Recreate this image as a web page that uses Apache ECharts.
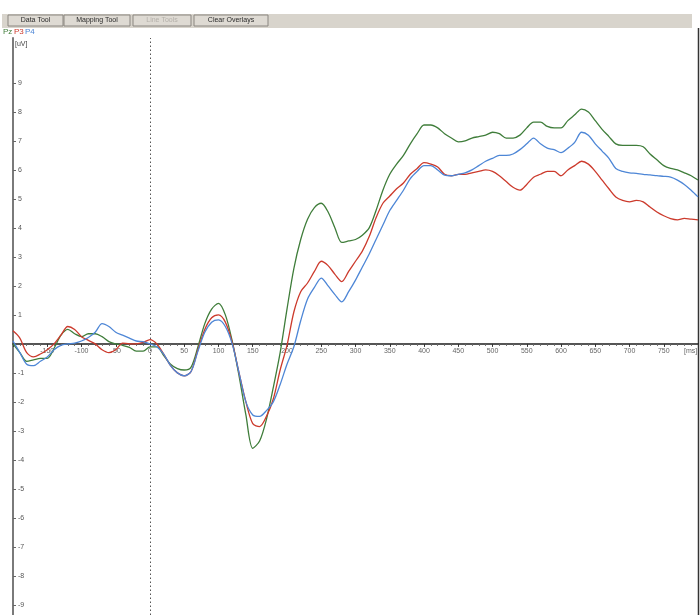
<!DOCTYPE html>
<html>
<head>
<meta charset="utf-8">
<title>ERP Pz P3 P4</title>
<script src="https://cdn.jsdelivr.net/npm/echarts@6/dist/echarts.min.js"></script>
<style>
  html, body { margin: 0; padding: 0; background: #ffffff; overflow: hidden; }
  #chart { width: 700px; height: 615px; }
</style>
</head>
<body>
<div id="chart"></div>
<script>
// Sample times in ms (10 ms steps), shared by all three channels
const timesMs = [
  -200, -190, -180, -170, -160, -150, -140, -130, -120, -110,
  -100, -90, -80, -70, -60, -50, -40, -30, -20, -10,
  0, 10, 20, 30, 40, 50, 60, 70, 80, 90,
  100, 110, 120, 130, 140, 150, 160, 170, 180, 190,
  200, 210, 220, 230, 240, 250, 260, 270, 280, 290,
  300, 310, 320, 330, 340, 350, 360, 370, 380, 390,
  400, 410, 420, 430, 440, 450, 460, 470, 480, 490,
  500, 510, 520, 530, 540, 550, 560, 570, 580, 590,
  600, 610, 620, 630, 640, 650, 660, 670, 680, 690,
  700, 710, 720, 730, 740, 750, 760, 770, 780, 790,
  800
];

// Channel amplitudes in microvolts
const pz = [
  0.0, -0.3, -0.6, -0.55, -0.5, -0.5, -0.15, 0.3, 0.5, 0.35,
  0.25, 0.35, 0.35, 0.25, 0.08, 0.0, -0.05, -0.12, -0.25, -0.25,
  -0.1, -0.1, -0.4, -0.7, -0.85, -0.9, -0.8, -0.1, 0.7, 1.2,
  1.4, 1.0, 0.1, -1.1, -2.45, -3.6, -3.35, -2.6, -1.5, -0.3,
  1.2, 2.6, 3.6, 4.3, 4.7, 4.85, 4.55, 4.0, 3.5, 3.55,
  3.6, 3.75, 4.0, 4.6, 5.3, 5.85, 6.2, 6.5, 6.9, 7.25,
  7.55, 7.55, 7.45, 7.25, 7.1, 6.97, 7.0, 7.1, 7.15, 7.2,
  7.3, 7.25, 7.1, 7.1, 7.2, 7.45, 7.65, 7.65, 7.5, 7.45,
  7.45, 7.7, 7.9, 8.1, 8.0, 7.7, 7.4, 7.15, 6.9, 6.85,
  6.85, 6.85, 6.8, 6.55, 6.35, 6.15, 6.05, 6.0, 5.9, 5.8,
  5.65
];

const p3 = [
  0.45, 0.2, -0.3, -0.45, -0.35, -0.2, 0.0, 0.3, 0.6, 0.5,
  0.25, 0.12, 0.0, -0.2, -0.3, -0.2, 0.03, 0.0, 0.0, 0.05,
  0.15, 0.0, -0.35, -0.75, -1.0, -1.1, -0.95, -0.2, 0.5, 0.9,
  1.0, 0.75, 0.05, -1.0, -2.0, -2.75, -2.85, -2.5, -1.9, -0.9,
  -0.05, 1.1, 1.8, 2.1, 2.5, 2.85, 2.7, 2.4, 2.15, 2.5,
  2.85, 3.2, 3.7, 4.35, 4.85, 5.1, 5.35, 5.55, 5.85, 6.05,
  6.25, 6.2, 6.1, 5.85, 5.8, 5.85, 5.85, 5.9, 5.95, 6.0,
  5.95, 5.8, 5.6, 5.4, 5.3, 5.5, 5.75, 5.85, 5.95, 5.95,
  5.8, 6.0, 6.15, 6.3, 6.2, 5.95, 5.65, 5.35, 5.07, 4.95,
  4.9, 4.95, 4.9, 4.72, 4.55, 4.42, 4.32, 4.28, 4.33, 4.3,
  4.28
];

const p4 = [
  0.1, -0.3, -0.7, -0.75, -0.6, -0.45, -0.2, -0.05, 0.0, 0.03,
  0.1, 0.22, 0.4, 0.7, 0.6, 0.4, 0.3, 0.2, 0.1, 0.08,
  0.0, -0.1, -0.35, -0.75, -1.0, -1.1, -0.95, -0.25, 0.4, 0.75,
  0.83, 0.6, 0.0, -1.0, -2.0, -2.45, -2.5, -2.3, -2.0, -1.4,
  -0.7, -0.1, 0.8, 1.55, 1.95, 2.27, 2.0, 1.7, 1.45, 1.8,
  2.2, 2.65, 3.1, 3.6, 4.1, 4.6, 4.95, 5.3, 5.7, 5.95,
  6.15, 6.15, 6.0, 5.82, 5.8, 5.85, 5.9, 6.0, 6.15, 6.3,
  6.4, 6.5, 6.5, 6.55, 6.7, 6.9, 7.1, 6.9, 6.75, 6.7,
  6.6, 6.75, 6.95, 7.3, 7.2, 6.9, 6.65, 6.4, 6.05, 5.95,
  5.9, 5.88, 5.85, 5.83, 5.8, 5.78, 5.75, 5.65, 5.5, 5.3,
  5.07
];

const channelNames = ['Pz', 'P3', 'P4'];
const channelColors = ['#3f7d3a', '#cc3a2c', '#4d86d6'];

// Axis tick labels
const xLabelValues = [-150, -100, -50, 0, 50, 100, 150, 200, 250, 300, 350,
  400, 450, 500, 550, 600, 650, 700, 750];
const yLabelValues = [-9, -8, -7, -6, -5, -4, -3, -2, -1, 1, 2, 3, 4, 5, 6, 7, 8, 9];
const toolButtons = ['Data Tool', 'Mapping Tool', 'Line Tools', 'Clear Overlays'];

const font = '"Liberation Sans", Arial, sans-serif';

// Plot frame and amplitude range
const gridTop = 38, gridBottom = 0, chartHeight = 615;
const yMin = -9.35, yMax = 10.55;
// distance from the grid's bottom edge up to the 0 µV line
const plotHeight = chartHeight - gridTop - gridBottom;
const zeroOffset = plotHeight * (0 - yMin) / (yMax - yMin);

function pairs(values) {
  return timesMs.map((t, i) => [t, values[i]]);
}

// Toolbar strip with buttons
const buttonBoxes = [[8, 55], [64, 66], [133, 58], [194, 74]];
const toolbar = [{
  type: 'rect',
  shape: { x: 2, y: 14, width: 690, height: 14 },
  style: { fill: '#d8d4cc' },
  silent: true
}];
toolButtons.forEach((label, i) => {
  const [bx, bw] = buttonBoxes[i];
  toolbar.push({
    type: 'rect',
    shape: { x: bx, y: 15, width: bw, height: 11 },
    style: { fill: '#dedad3', stroke: '#8a8680', lineWidth: 1 },
    silent: true
  });
  toolbar.push({
    type: 'text',
    x: bx + bw / 2, y: 20.5,
    style: {
      text: label, fontSize: 7, fontFamily: font,
      fill: i === 2 ? '#b4b0aa' : '#2a2a2a',
      align: 'center', verticalAlign: 'middle'
    },
    silent: true
  });
});

// Channel key, each name in its channel colour
const keyX = [3, 14, 25];
const channelKey = channelNames.map((n, i) => ({
  type: 'text', x: keyX[i], y: 28,
  style: { text: n, fontSize: 8, fontFamily: font, fill: channelColors[i] },
  silent: true
}));

const chart = echarts.init(document.getElementById('chart'), null, { renderer: 'canvas' });

chart.setOption({
  backgroundColor: '#ffffff',
  animation: false,
  grid: {
    left: 13, right: 2, top: gridTop, bottom: gridBottom,
    containLabel: false, outerBoundsMode: 'none'
  },
  xAxis: {
    type: 'value',
    min: -200, max: 800, interval: 50,
    position: 'bottom',
    offset: -zeroOffset,
    axisLine: { onZero: false, lineStyle: { color: '#1e1e1e', width: 1.5 } },
    axisTick: { show: true, length: 3, lineStyle: { color: '#333' } },
    minorTick: { show: true, splitNumber: 5, length: 2, lineStyle: { color: '#666' } },
    axisLabel: {
      customValues: xLabelValues,
      fontSize: 7, fontFamily: font, color: '#666', margin: 4
    },
    splitLine: { show: false }
  },
  yAxis: {
    type: 'value',
    min: yMin, max: yMax,
    axisLine: { onZero: false, lineStyle: { color: '#7a7a7a', width: 2 } },
    axisTick: { inside: true, length: 3, customValues: yLabelValues, lineStyle: { color: '#666' } },
    axisLabel: {
      inside: true, customValues: yLabelValues,
      fontSize: 7, fontFamily: font, color: '#555', margin: 5
    },
    splitLine: { show: false }
  },
  series: [
    {
      name: 'Pz', type: 'line', data: pairs(pz), showSymbol: false, smooth: 0.3,
      lineStyle: { color: channelColors[0], width: 1.3 }, itemStyle: { color: channelColors[0] },
      markLine: {
        silent: true, symbol: 'none', label: { show: false },
        lineStyle: { color: '#555', type: [1.5, 2.5], width: 1 },
        data: [{ xAxis: 0 }]
      }
    },
    {
      name: 'P3', type: 'line', data: pairs(p3), showSymbol: false, smooth: 0.3,
      lineStyle: { color: channelColors[1], width: 1.3 }, itemStyle: { color: channelColors[1] }
    },
    {
      name: 'P4', type: 'line', data: pairs(p4), showSymbol: false, smooth: 0.3,
      lineStyle: { color: channelColors[2], width: 1.3 }, itemStyle: { color: channelColors[2] }
    }
  ],
  graphic: toolbar.concat(channelKey, [
    {
      type: 'text', x: 15, y: 41,
      style: { text: '[uV]', fontSize: 7, fontFamily: font, fill: '#444' },
      silent: true
    },
    {
      type: 'text', x: 684, y: 348,
      style: { text: '[ms]', fontSize: 7, fontFamily: font, fill: '#666' },
      silent: true
    },
    {
      type: 'line',
      shape: { x1: 698.5, y1: 28, x2: 698.5, y2: 615 },
      style: { stroke: '#333', lineWidth: 1.5 },
      silent: true
    }
  ])
});
</script>
</body>
</html>
